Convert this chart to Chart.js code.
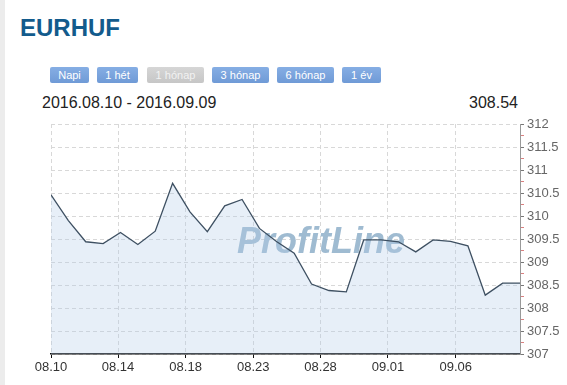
<!DOCTYPE html>
<html>
<head>
<meta charset="utf-8">
<script src="https://cdn.jsdelivr.net/npm/chart.js@4"></script>
<style>
  body { margin: 0; background: #fff; font-family: Arial, "Liberation Sans", sans-serif; }
  #wrap { position: relative; width: 567px; height: 385px; overflow: hidden; }
  #strip { position: absolute; left: 0; top: 0; width: 5px; height: 385px; background: #ececec; }
  #title { position: absolute; left: 20px; top: 14px; font-size: 24px; font-weight: bold; color: #135b8c; }
  .btn { position: absolute; top: 67px; height: 16px; line-height: 16px; font-size: 11px; color: #fff;
         text-align: center; border-radius: 2px; background: linear-gradient(#86aee4, #6f9ad6); }
  .btn.off { background: linear-gradient(#d6d6d6, #c6c6c6); color: #f2f2f2; }
  #range { position: absolute; left: 42px; top: 94px; font-size: 16px; color: #222; }
  #last { position: absolute; right: 49px; top: 94px; font-size: 16px; color: #222; }
  canvas { position: absolute; left: 0; top: 0; }
</style>
</head>
<body>
<div id="wrap">
  <div id="strip"></div>
  <div id="title">EURHUF</div>
  <div class="btn" style="left:50px;width:39px">Napi</div>
  <div class="btn" style="left:97px;width:41px">1 hét</div>
  <div class="btn off" style="left:147px;width:57px">1 hónap</div>
  <div class="btn" style="left:212px;width:57px">3 hónap</div>
  <div class="btn" style="left:277px;width:57px">6 hónap</div>
  <div class="btn" style="left:342px;width:39px">1 év</div>
  <div id="range">2016.08.10 - 2016.09.09</div>
  <div id="last">308.54</div>
  <canvas id="myChart" width="567" height="385"></canvas>
</div>
<script>
// EURHUF daily rates, one value per point
let rates = [310.46, 309.90, 309.44, 309.40, 309.64, 309.38, 309.67, 310.71, 310.09, 309.66,
             310.22, 310.36, 309.73, 309.44, 309.19, 308.52, 308.38, 308.35, 309.48, 309.48,
             309.44, 309.22, 309.48, 309.45, 309.35, 308.28, 308.54, 308.54];

// x axis labels and where they sit (in point index units)
let tickLabels = ['08.10', '08.14', '08.18', '08.23', '08.28', '09.01', '09.06'];
let tickPositions = [0, 3.86, 7.75, 11.64, 15.52, 19.4, 23.3];

let yMin = 307, yMax = 312;

let points = rates.map((v, i) => ({x: i, y: v}));

let isMajor = (v) => Math.abs(v * 2 - Math.round(v * 2)) < 1e-6;

// watermark behind the filled area
let watermark = {
  id: 'watermark',
  beforeDatasetsDraw(chart) {
    let c = chart.ctx;
    c.save();
    c.font = 'italic bold 36px Arial, "Liberation Sans", sans-serif';
    c.fillStyle = '#9fbbd1';
    c.textAlign = 'center';
    c.textBaseline = 'alphabetic';
    c.fillText('ProfitLine', 321, 253);
    c.restore();
  }
};

let ctx = document.getElementById('myChart').getContext('2d');

let chart = new Chart(ctx, {
  type: 'line',
  data: {
    datasets: [{
      data: points,
      borderColor: '#3e5062',
      borderWidth: 1.3,
      backgroundColor: 'rgba(180, 205, 232, 0.32)',
      fill: 'start',
      pointRadius: 0,
      lineTension: 0
    }]
  },
  plugins: [watermark],
  options: {
    responsive: false,
    animation: false,
    devicePixelRatio: 1,
    layout: { padding: { left: 51, top: 124, right: 0, bottom: 0 } },
    plugins: {
      legend: { display: false },
      tooltip: { enabled: false }
    },
    scales: {
      x: {
        type: 'linear',
        min: 0,
        max: rates.length - 1,
        afterBuildTicks: (scale) => {
          scale.ticks = tickPositions.map(v => ({value: v}));
        },
        afterFit: (scale) => { scale.height = 31; },
        ticks: {
          autoSkip: false,
          maxRotation: 0,
          padding: 2,
          color: '#333',
          font: { family: 'Arial, "Liberation Sans", sans-serif', size: 13 },
          callback: (value, index) => tickLabels[index]
        },
        grid: {
          color: '#d8d8d8',
          tickColor: '#111',
          tickLength: 4,
          lineWidth: 1
        },
        border: { color: '#111', width: 1.5, dash: [4, 3] }
      },
      y: {
        position: 'right',
        min: yMin,
        max: yMax,
        afterFit: (scale) => { scale.width = 47; },
        ticks: {
          stepSize: 0.25,
          autoSkip: false,
          padding: 3,
          color: '#666',
          font: { family: 'Arial, "Liberation Sans", sans-serif', size: 13 },
          callback: (value) => isMajor(value) ? String(+value.toFixed(1)) : ''
        },
        grid: {
          color: (c) => isMajor(c.tick.value) ? '#d8d8d8' : 'rgba(0,0,0,0)',
          tickColor: (c) => isMajor(c.tick.value) ? '#777' : '#d98080',
          tickLength: 4,
          lineWidth: 1
        },
        border: { color: '#999', width: 1, dash: [4, 3] }
      }
    }
  }
});
</script>
</body>
</html>
